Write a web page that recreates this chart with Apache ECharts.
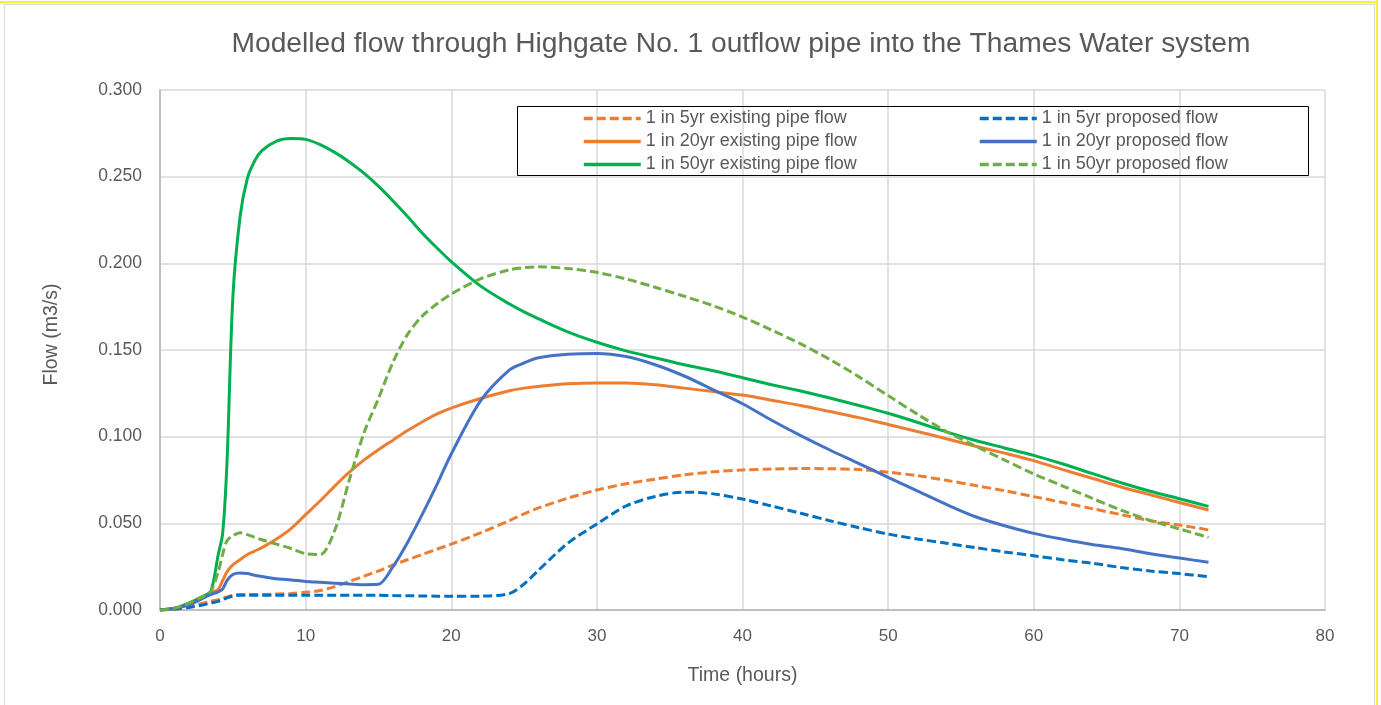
<!DOCTYPE html>
<html>
<head>
<meta charset="utf-8">
<script src="https://cdn.jsdelivr.net/npm/echarts@6/dist/echarts.min.js"></script>
<style>html,body{margin:0;padding:0;background:#fff}#c{width:1381px;height:705px}</style>
</head>
<body>
<div id="c"></div>
<script>
// ---- data ----
const hours = [0,1,2,3,3.5,4,4.3,4.6,5,5.5,6,6.5,7,8,9,10,11,12,13,14,15,16,17,18,19,20,22,24,25,26,28,30,32,34,36,38,40,42,44,46,48,50,52,54,56,58,60,62,64,66,68,70,72];

const existing5yr  = [0,0.0005,0.002,0.004,0.005,0.006,0.007,0.0075,0.0085,0.009,0.009,0.009,0.009,0.0092,0.0095,0.0102,0.0112,0.0135,0.0165,0.0195,0.0225,0.026,0.029,0.032,0.035,0.038,0.0445,0.0516,0.0555,0.0589,0.0645,0.0692,0.0728,0.0755,0.078,0.0797,0.0808,0.0813,0.0816,0.0815,0.081,0.0795,0.0775,0.0748,0.0718,0.0688,0.0654,0.062,0.0585,0.055,0.0515,0.049,0.0462];

const existing20yr = [0,0.001,0.004,0.008,0.010,0.012,0.017,0.022,0.026,0.029,0.032,0.034,0.036,0.041,0.047,0.055,0.063,0.0715,0.0795,0.0865,0.0925,0.098,0.1035,0.1085,0.113,0.1165,0.122,0.1265,0.128,0.129,0.1305,0.131,0.131,0.130,0.128,0.126,0.124,0.121,0.118,0.1145,0.111,0.107,0.103,0.0988,0.0945,0.0905,0.0862,0.081,0.076,0.071,0.0665,0.062,0.0577];

const existing50yr = [0,0.001,0.004,0.008,0.011,0.032,0.044,0.085,0.18,0.227,0.249,0.259,0.265,0.2705,0.272,0.2715,0.2685,0.264,0.2585,0.252,0.2445,0.236,0.227,0.2175,0.209,0.201,0.187,0.1765,0.172,0.168,0.1605,0.1545,0.1495,0.1455,0.1415,0.138,0.134,0.130,0.1263,0.1223,0.118,0.1135,0.1083,0.1028,0.0978,0.0935,0.0892,0.0842,0.0788,0.0734,0.0685,0.0642,0.0598];

const proposed5yr  = [0,0.0005,0.0015,0.003,0.004,0.005,0.006,0.007,0.008,0.0085,0.0085,0.0085,0.0085,0.0085,0.0085,0.0085,0.0085,0.0085,0.0085,0.0085,0.0085,0.0083,0.0082,0.0081,0.008,0.008,0.008,0.0095,0.015,0.023,0.0385,0.0496,0.060,0.0655,0.068,0.067,0.064,0.060,0.0558,0.0515,0.0475,0.0438,0.041,0.0385,0.036,0.0335,0.0313,0.029,0.027,0.0245,0.0225,0.021,0.0192];

const proposed20yr = [0,0.001,0.003,0.007,0.009,0.0105,0.012,0.017,0.0205,0.0214,0.021,0.020,0.0193,0.018,0.0173,0.0165,0.016,0.0155,0.015,0.0146,0.0148,0.025,0.039,0.055,0.072,0.090,0.1205,0.1385,0.1425,0.1455,0.1475,0.148,0.1462,0.1415,0.135,0.127,0.119,0.1095,0.1006,0.0923,0.0845,0.0765,0.0687,0.0609,0.0538,0.0486,0.0442,0.0408,0.0378,0.0355,0.0325,0.030,0.0275];

const proposed50yr = [0,0.001,0.004,0.008,0.011,0.022,0.032,0.040,0.0427,0.0446,0.0435,0.042,0.0405,0.038,0.0355,0.0325,0.032,0.046,0.075,0.102,0.122,0.143,0.159,0.1695,0.1765,0.1823,0.191,0.1963,0.1975,0.198,0.197,0.1948,0.191,0.1862,0.181,0.1755,0.169,0.1615,0.1535,0.1445,0.1345,0.1237,0.113,0.103,0.0946,0.0865,0.0785,0.0715,0.0645,0.0576,0.0517,0.0468,0.0419];

const xTicks = {min: 0, max: 80, step: 10};
const yTicks = {min: 0, max: 0.3, step: 0.05};

const names = {
  e5: '1 in 5yr existing pipe flow',
  e20: '1 in 20yr existing pipe flow',
  e50: '1 in 50yr existing pipe flow',
  p5: '1 in 5yr proposed flow',
  p20: '1 in 20yr proposed flow',
  p50: '1 in 50yr proposed flow'
};

// ---- chart ----
const FONT = '"Liberation Sans", Arial, sans-serif';
const TXT = '#595959';
const pair = arr => hours.map((h, i) => [h, arr[i]]);
const dash = [9, 4];

function line(name, arr, color, dashed) {
  return {
    name, type: 'line', data: pair(arr), symbol: 'none', showSymbol: false,
    smooth: 0.3,
    lineStyle: {color, width: 3, type: dashed ? dash : 'solid', cap: 'butt'},
    itemStyle: {color},
    emphasis: {disabled: true},
    z: 3
  };
}

const chart = echarts.init(document.getElementById('c'), null, {renderer: 'canvas'});
const legendCommon = {
  orient: 'vertical', padding: 0, itemWidth: 57, itemHeight: 14, itemGap: 3,
  itemStyle: {opacity: 0, borderWidth: 0},
  lineStyle: {width: 3.5},
  textStyle: {fontFamily: FONT, fontSize: 18, color: TXT, lineHeight: 20},
  selectedMode: false, top: 108.5
};
chart.setOption({
  animation: false,
  backgroundColor: '#ffffff',
  textStyle: {fontFamily: FONT},
  title: {
    text: 'Modelled flow through Highgate No. 1 outflow pipe into the Thames Water system',
    left: 736, top: 25, textAlign: 'center',
    textStyle: {fontFamily: FONT, fontSize: 28.2, fontWeight: 'normal', color: TXT}
  },
  legend: [
    Object.assign({}, legendCommon, {left: 582, data: [names.e5, names.e20, names.e50]}),
    Object.assign({}, legendCommon, {left: 978, data: [names.p5, names.p20, names.p50]})
  ],
  grid: {left: 160, right: 56, top: 90, bottom: 95, containLabel: false},
  xAxis: {
    type: 'value', min: xTicks.min, max: xTicks.max, interval: xTicks.step,
    name: 'Time (hours)', nameLocation: 'middle', nameGap: 56,
    nameTextStyle: {fontFamily: FONT, fontSize: 19.5, color: TXT},
    axisLine: {show: true, lineStyle: {color: '#bfbfbf', width: 2}},
    axisTick: {show: false},
    axisLabel: {color: TXT, fontSize: 17, fontFamily: FONT, margin: 18},
    splitLine: {show: true, lineStyle: {color: '#d9d9d9', width: 1.5}}
  },
  yAxis: {
    type: 'value', min: yTicks.min, max: yTicks.max, interval: yTicks.step,
    axisLine: {show: true, lineStyle: {color: '#bfbfbf', width: 2}},
    axisTick: {show: false},
    axisLabel: {color: TXT, fontSize: 17.5, fontFamily: FONT, margin: 18,
      formatter: v => v.toFixed(3)},
    splitLine: {show: true, lineStyle: {color: '#d9d9d9', width: 1.5}}
  },
  graphic: [
    {type: 'rect', shape: {x: 517.5, y: 106.5, width: 791, height: 69}, style: {fill: null, stroke: '#000', lineWidth: 1}, z: 10},
    {type: 'text', x: 52, y: 334.5, rotation: Math.PI / 2,
      style: {text: 'Flow (m3/s)', font: '19.5px ' + FONT, fill: TXT, textAlign: 'center', textVerticalAlign: 'middle'}},
    {type: 'rect', shape: {x: 4.5, y: 4.5, width: 1370, height: 710}, style: {fill: null, stroke: '#d9d9d9', lineWidth: 1}},
    {type: 'line', shape: {x1: 0, y1: 2, x2: 1378, y2: 2}, style: {stroke: '#f7ef3b', lineWidth: 2}},
    {type: 'line', shape: {x1: 1377, y1: 0, x2: 1377, y2: 705}, style: {stroke: '#f7ef3b', lineWidth: 2}}
  ],
  series: [
    line(names.e5, existing5yr, '#ED7D31', true),
    line(names.e20, existing20yr, '#ED7D31', false),
    line(names.e50, existing50yr, '#00B050', false),
    line(names.p5, proposed5yr, '#0070C0', true),
    line(names.p20, proposed20yr, '#4472C4', false),
    line(names.p50, proposed50yr, '#70AD47', true)
  ]
});
</script>
</body>
</html>
